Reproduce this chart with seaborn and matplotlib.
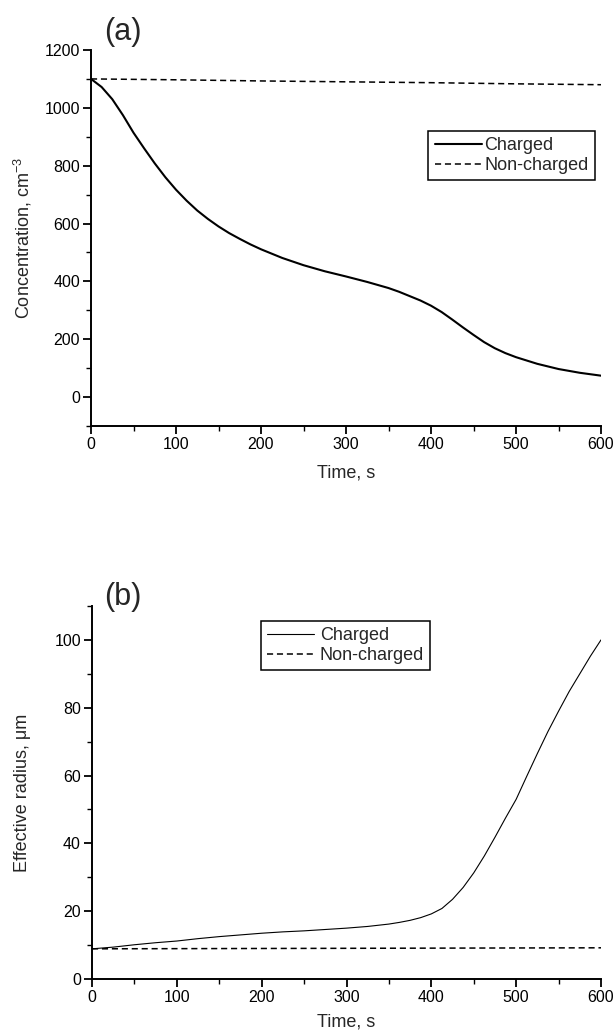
import numpy as np
import pandas as pd
import matplotlib
matplotlib.use("Agg")
import matplotlib.pyplot as plt
from matplotlib.ticker import MultipleLocator
import seaborn as sns

# ---- data ----
time_a = [0, 12.5, 25, 37.5, 50, 62.5, 75, 87.5, 100, 112.5, 125, 137.5, 150,
          162.5, 175, 187.5, 200, 225, 250, 275, 300, 325, 350, 362.5, 375,
          387.5, 400, 412.5, 425, 437.5, 450, 462.5, 475, 487.5, 500, 525,
          550, 575, 600]
conc_charged = [1100, 1072, 1030, 975, 914, 860, 808, 760, 717, 679, 645, 616, 590,
                567, 547, 528, 511, 481, 456, 435, 417, 398, 377, 364, 349,
                334, 316, 294, 268, 241, 215, 190, 169, 152, 138, 115,
                97, 84, 74]
time_nc = [0, 100, 200, 300, 400, 500, 600]
conc_noncharged = [1100, 1097, 1093, 1090, 1087, 1083, 1080]

time_b = [0, 25, 50, 75, 100, 125, 150, 175, 200, 225, 250, 275, 300, 325,
          350, 362.5, 375, 387.5, 400, 412.5, 425, 437.5, 450, 462.5, 475,
          487.5, 500, 512.5, 525, 537.5, 550, 562.5, 575, 587.5, 600]
radius_charged = [8.9, 9.4, 10.1, 10.7, 11.2, 11.9, 12.5, 13.0, 13.5, 13.9, 14.2, 14.6, 15.0, 15.5,
                  16.2, 16.7, 17.3, 18.1, 19.2, 20.8, 23.5, 27.0, 31.3, 36.3, 41.8,
                  47.5, 53.0, 59.8, 66.5, 73.0, 79.0, 84.8, 90.0, 95.2, 100.0]
radius_noncharged = [8.9, 8.95, 9.0, 9.05, 9.1, 9.15, 9.2]

series_labels = ["Charged", "Non-charged"]
xticks_major = [0, 100, 200, 300, 400, 500, 600]

sns.set_style("ticks")
plt.rcParams['font.family'] = ['Liberation Sans', 'DejaVu Sans']
plt.rcParams['mathtext.fontset'] = 'custom'
plt.rcParams['mathtext.rm'] = 'Liberation Sans'
plt.rcParams['mathtext.it'] = 'Liberation Sans:italic'
plt.rcParams['axes.linewidth'] = 1.4
plt.rcParams['xtick.major.width'] = 1.3
plt.rcParams['ytick.major.width'] = 1.3
plt.rcParams['xtick.minor.width'] = 1.0
plt.rcParams['ytick.minor.width'] = 1.0

W, H = 614, 1035
fig = plt.figure(figsize=(W / 100, H / 100), dpi=100)

def frac_axes(l, r, t, b):
    return fig.add_axes([l / W, 1 - b / H, (r - l) / W, (b - t) / H])

ax1 = frac_axes(91, 601, 50, 426)
ax2 = frac_axes(92, 601, 606, 979)

# ---- panel (a) ----
sns.lineplot(x=time_a, y=conc_charged, ax=ax1, color="black", lw=1.5,
             label=series_labels[0])
sns.lineplot(x=time_nc, y=conc_noncharged, ax=ax1, color="black", lw=1.1,
             linestyle=(0, (4, 2.5)), label=series_labels[1])
ax1.set_xlim(0, 600)
ax1.set_ylim(-100, 1200)
ax1.yaxis.set_major_locator(MultipleLocator(200))
ax1.yaxis.set_minor_locator(MultipleLocator(100))
ax1.set_ylabel("Concentration, cm$^{\\mathregular{-3}}$", fontsize=13)
ax1.yaxis.set_label_coords(-0.112, 0.5)

# ---- panel (b) ----
sns.lineplot(x=time_b, y=radius_charged, ax=ax2, color="black", lw=0.8,
             label=series_labels[0])
sns.lineplot(x=time_nc, y=radius_noncharged, ax=ax2, color="black", lw=1.1,
             linestyle=(0, (4, 2.5)), label=series_labels[1])
ax2.set_xlim(0, 600)
ax2.set_ylim(0, 110)
ax2.yaxis.set_major_locator(MultipleLocator(20))
ax2.yaxis.set_minor_locator(MultipleLocator(10))
ax2.set_ylabel("Effective radius, μm", fontsize=13)
ax2.yaxis.set_label_coords(-0.12, 0.5)

for ax in (ax1, ax2):
    ax.set_xticks(xticks_major)
    ax.xaxis.set_minor_locator(MultipleLocator(50))
    ax.set_xlabel("Time, s", fontsize=13, labelpad=9)
    for s in ("top", "right"):
        ax.spines[s].set_visible(False)
    ax.spines["left"].set_color("black")
    ax.spines["bottom"].set_color("black")
    ax.tick_params(which="major", direction="out", length=6, labelsize=11.5,
                   pad=2, colors="black")
    ax.tick_params(which="minor", direction="out", length=3.5, colors="black")
    ax.grid(False)

ax2.xaxis.labelpad = 6

leg1 = ax1.legend(loc="upper right", bbox_to_anchor=(0.988, 0.785),
                  borderaxespad=0, frameon=True, fancybox=False, fontsize=13,
                  handlelength=2.6, handletextpad=0.15, labelspacing=0.15,
                  borderpad=0.35)
leg2 = ax2.legend(loc="upper left", bbox_to_anchor=(0.332, 0.96),
                  borderaxespad=0, frameon=True, fancybox=False, fontsize=13,
                  handlelength=2.6, handletextpad=0.3, labelspacing=0.15,
                  borderpad=0.35)
for leg in (leg1, leg2):
    fr = leg.get_frame()
    fr.set_edgecolor("black")
    fr.set_linewidth(1.1)
    fr.set_alpha(1)

fig.text(104 / W, 1 - 32 / H, "(a)", fontsize=22, ha="left", va="center")
fig.text(104 / W, 1 - 597 / H, "(b)", fontsize=22, ha="left", va="center")

fig.savefig("out.png", dpi=100, facecolor="white")
